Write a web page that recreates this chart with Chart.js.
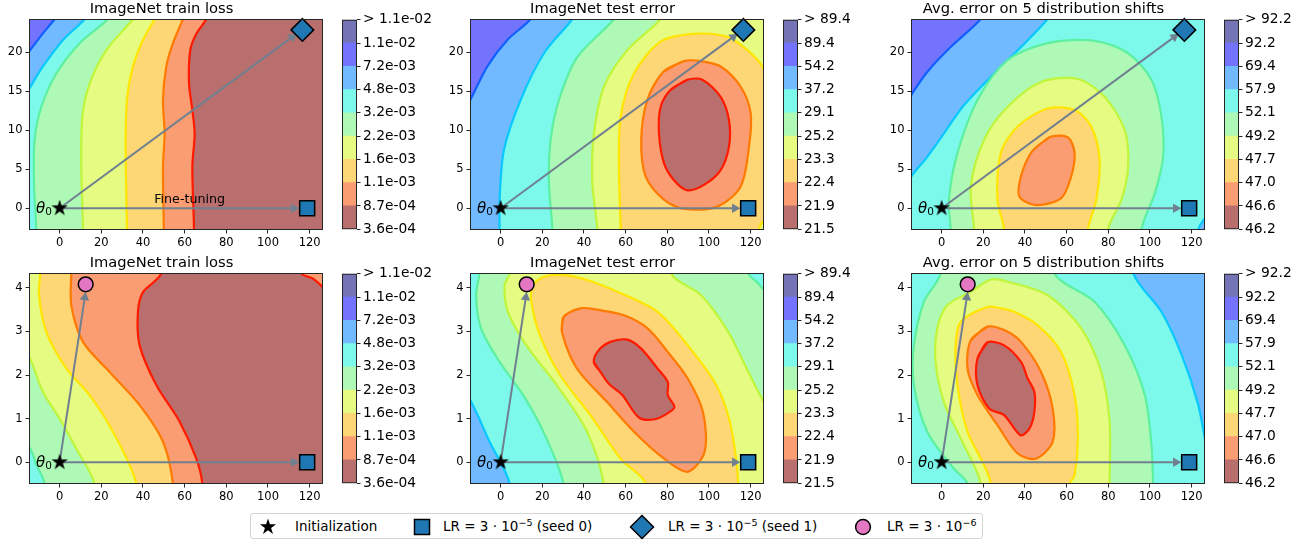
<!DOCTYPE html>
<html>
<head>
<meta charset="utf-8">
<script src="https://cdn.jsdelivr.net/npm/chart.js@4.4.1/dist/chart.umd.min.js"></script>
<style>
  body { margin: 0; width: 1301px; height: 542px; background: #fff; position: relative; overflow: hidden; font-family: "DejaVu Sans", sans-serif; }
  canvas { position: absolute; }
  #legend { position: absolute; left: 250px; top: 513px; width: 733px; height: 26px; box-sizing: border-box; border: 1px solid #d4d4d4; border-radius: 3px; }
  #legend svg { position: absolute; }
  #legend .item { position: absolute; top: 0; height: 24px; line-height: 24px; font-size: 13.5px; color: #000; white-space: nowrap; }
  #legend sup { font-size: 9.5px; vertical-align: 5px; line-height: 0; }
</style>
</head>
<body>
<div id="legend">
  <svg style="left:7px;top:2.5px" width="20" height="20"><polygon fill="#000" points="10,1.5 11.91,7.37 18.08,7.37 13.09,11 15,16.88 10,13.25 5,16.88 6.91,11 1.92,7.37 8.09,7.37"/></svg>
  <span class="item" style="left:44px">Initialization</span>
  <svg style="left:161.7px;top:3.5px" width="18" height="18"><rect x="1.5" y="1.5" width="15" height="15" fill="#1f77b4" stroke="#000" stroke-width="1.5"/></svg>
  <span class="item" style="left:192px">LR = 3 · 10<sup>−5</sup> (seed 0)</span>
  <svg style="left:378px;top:-0.5px" width="26" height="26"><polygon points="13,1.5 24.5,13 13,24.5 1.5,13" fill="#1f77b4" stroke="#000" stroke-width="1.5"/></svg>
  <span class="item" style="left:417px">LR = 3 · 10<sup>−5</sup> (seed 1)</span>
  <svg style="left:603px;top:3.5px" width="18" height="18"><circle cx="9" cy="9" r="7.4" fill="#e377c2" stroke="#000" stroke-width="1.5"/></svg>
  <span class="item" style="left:636px">LR = 3 · 10<sup>−6</sup></span>
</div>
<script>
// ---- axes ----
const xTicks = [0, 20, 40, 60, 80, 100, 120];
const yTicksTop = [0, 5, 10, 15, 20];
const yTicksLow = [0, 1, 2, 3, 4];
const xRange = [-14.7, 126.4];
const yRangeTop = [-2.8, 24.3];
const yRangeLow = [-0.5, 4.34];

const titles = ['ImageNet train loss', 'ImageNet test error', 'Avg. error on 5 distribution shifts'];

// colorbar tick labels (bottom to top)
const lossLabels = ['3.6e-04', '8.7e-04', '1.1e-03', '1.6e-03', '2.2e-03', '3.2e-03', '4.8e-03', '7.2e-03', '1.1e-02', '> 1.1e-02'];
const testLabels = ['21.5', '21.9', '22.4', '23.3', '25.2', '29.1', '37.2', '54.2', '89.4', '> 89.4'];
const shiftLabels = ['46.2', '46.6', '47.0', '47.7', '49.2', '52.1', '57.9', '69.4', '92.2', '> 92.2'];

// level fills (low -> high) and contour line colours between them
const fillColors = ['#b86f6e', '#fb9d72', '#fdd676', '#e5fb82', '#aef9b6', '#7cf9ea', '#72baff', '#7373fd', '#7373b6'];
const lineColors = ['#ff1a00', '#ff7a00', '#ffe500', '#bff53a', '#5cf0a0', '#08c8ff', '#1060ff', '#2020e0'];

// markers
const initPoint = [0, 0];
const seed0Point = [118.8, 0];
const seed1Point = [116.5, 22.9];
const lowLrPoint = [12.5, 4.08];
const seed0ArrowEnd = [112.4, 0];
const seed1ArrowEnd = [111.7, 22.0];
const lowLrArrowEnd = [12.1, 3.78];
const fineTuneAt = [62.4, 1.06];

// ---- contour boundaries, top row (train loss) ----
const trainTop6 = [[-22,17.5],[-14.7,20.1],[-8.5,22.3],[-2.4,24.3],[3,26.5],[170,40],[170,-15],[-40,-15],[-40,10]];
const trainTop5 = [[-22,12],[-14.7,15.3],[-8,18.2],[1.6,21.6],[12,24.3],[18,27],[170,40],[170,-15],[-40,-15],[-40,5]];
const trainTop4 = [[-10.5,-15],[-11.2,-2.8],[-12.3,3.2],[-12,8.8],[-8.8,13],[-1.6,17.3],[9.6,21.2],[23.2,24.3],[30,27],[170,40],[170,-15]];
const trainTop3 = [[11.3,-15],[11.2,-2.8],[10.4,5.3],[10.9,11.8],[14.4,16],[22.4,20.3],[35.2,24.3],[42,27],[170,40],[170,-15]];
const trainTop2 = [[32.4,-15],[32.3,-2.8],[31.7,7.5],[32.3,13.9],[35.2,18.2],[40,21.6],[45.6,24.3],[50,27],[170,40],[170,-15]];
const trainTop1 = [[50,-15],[50,-2.8],[49.6,5.3],[50.4,9.6],[49.6,13.9],[51.2,18.2],[54.4,21.2],[59.2,24.3],[63,27],[170,40],[170,-15]];
const trainTop0 = [[64.5,-15],[64.5,-2.8],[63.7,5.3],[64.8,9.6],[63.7,12.6],[62.1,16],[62.7,20.3],[65.6,22.4],[70.4,24.3],[74,27],[170,40],[170,-15]];

// top row (test error)
const testTop6 = [[-25,9],[-14.4,14],[-6.4,18.2],[3.2,21.6],[14.4,24.3],[20,27],[170,40],[170,-15],[-40,-15],[-40,5]];
const testTop5 = [[-0.5,-15],[-0.5,-2.8],[-0.5,1.1],[1.6,7.5],[9.6,13.9],[20.8,19.9],[34.4,24.3],[40,27],[170,40],[170,-15]];
const testTop4 = [[25,-15],[24.8,-2.8],[23.2,3.2],[24,8.8],[28,13.9],[36.8,19.4],[54.4,24.3],[60,27],[170,40],[170,-15]];
const testTop3 = [[46.6,-15],[46.4,-2.8],[44,3.2],[44.8,9.6],[49.6,15.6],[60.8,20.3],[76.8,24.3],[82,27],[170,40],[170,-15]];
const testTop2 = [[58,-15],[57.6,-2.8],[56.8,5.3],[57.6,11.8],[64,17.3],[76.8,21.4],[92.8,22.4],[108.8,22],[118.4,20.3],[125.6,18.2],[132,14],[140,5],[132,-0.8],[126.7,-1.5],[124,-2.8],[122,-15]];
const testTop1 = [[88,18.9],[96,18.9],[105.6,18.2],[115.2,15.6],[120,12.2],[119.2,7.9],[115.2,2.8],[104,0.2],[88,-0.1],[78.4,1.1],[69.6,4.1],[67.5,8.8],[70.4,13.9],[78,17.5]];
const testTop0 = [[89.6,16.5],[96.8,16.5],[105.6,14.3],[109.6,11.3],[109.6,7.9],[105.6,4.9],[97.6,3],[89.6,2.3],[83.2,3.6],[78.4,5.8],[76,9.6],[76.8,13],[81.6,15.2]];

// top row (distribution shifts)
const shiftTop6 = [[-25,9.5],[-14.6,14.5],[-6.9,17.5],[4.3,20.7],[18.8,24.3],[25,27],[170,40],[170,-15],[-40,-15],[-40,5]];
const shiftTop5 = [[-25,-0.5],[-14.6,4.06],[-6.9,6.6],[1.1,9.6],[10,13],[20.4,16],[38.1,20.7],[50.9,24.3],[58,27],[170,40],[170,5],[132,0.5],[126.9,-1.1],[123.2,-2.8],[121,-15],[-40,-15]];
const shiftTop4 = [[4.5,-15],[4.3,-2.8],[3.5,1.1],[7.6,7.1],[17.2,13.9],[31.6,19],[50.9,21.2],[73.4,21.5],[89.5,19.9],[100.7,16.5],[105.5,11.8],[106.3,6.6],[102.3,1.9],[95.9,-2.8],[94,-15]];
const shiftTop3 = [[15.8,-15],[15.6,-2.8],[14,2.8],[20.4,8.8],[31.6,13],[47.7,16.2],[65.4,16.6],[78.2,14.3],[87.9,10],[89.5,5.3],[86.3,1.1],[79.8,-2.8],[78,-15]];
const shiftTop2 = [[30.5,-15],[30,-2.8],[26.8,1.1],[28.4,7.1],[36.5,10.5],[50.9,12.8],[63.8,12.6],[71.8,10.5],[75.8,6.2],[74.2,1.1],[70.2,-2.8],[68,-15]];
const shiftTop1 = [[52.5,9.2],[60.6,9.1],[63.8,7.1],[62.2,4.1],[57.4,1.3],[45.3,0.4],[37.3,1.5],[38.1,4.1],[42.9,7.1],[48.5,8.5]];

// bottom row (train loss)
const trainLow4 = [[-30,1.1],[-14.7,0.35],[-11,-0.07],[-7.2,-0.5],[-5,-2],[170,-2],[170,6],[-40,6],[-40,1.5]];
const trainLow3 = [[-30,3.5],[-14.7,2.42],[-8,1.61],[0,1.0],[8,0.31],[16.8,-0.5],[20,-2],[170,-2],[170,6],[-40,6]];
const trainLow2 = [[-9,6],[-9.3,4.34],[-9.9,3.83],[-6.4,2.99],[3.2,2.15],[14.4,1.54],[25.6,0.7],[36.8,-0.5],[38,-2],[170,-2],[170,6]];
const trainLow1 = [[5.6,6],[5.6,4.34],[5.6,3.6],[11.2,2.76],[24,2.07],[38.4,1.31],[49.6,0.47],[54.4,-0.5],[55.5,-2],[170,-2],[170,6]];
const trainLow0 = [[52,6],[48.8,4.34],[40,3.9],[37.6,3.45],[38.4,2.68],[46.4,1.77],[57.6,0.93],[65.6,0.08],[68.5,-0.5],[70,-2],[170,-2],[170,3.2],[132,3.6],[126.4,4.0],[121.6,4.21],[116,4.34],[110,6]];

// bottom row (test error)
const testLow5 = [[-30,2.5],[-15,1.46],[-5.3,0.47],[4.4,-0.5],[7,-2],[170,-2],[170,6],[-40,6],[-40,3]];
const testLow4 = [[-10,6],[-10.2,4.34],[-11.8,3.83],[-9.4,3.07],[-0.5,2.3],[10.8,1.54],[20.5,0.7],[30.2,-0.5],[32,-2],[170,-2],[170,3],[135,3.5],[127.3,3.9],[123.7,4.1],[118.9,4.34],[115,6]];
const testLow3 = [[4.6,6],[4.4,4.34],[1.9,4.06],[3.5,3.45],[12.4,2.68],[26.9,1.77],[41.5,0.7],[49.5,-0.5],[51,-2],[170,-2],[170,0.5],[135,0.9],[127.3,1.31],[118.9,2.07],[109.2,2.99],[96.3,3.83],[81.8,4.34],[78,6]];
const testLow2 = [[70,-2],[69.7,-0.5],[57.6,0.08],[43.1,1.08],[28.5,2.0],[18.9,2.91],[14.8,3.68],[15.6,4.06],[20.5,4.25],[30.2,4.29],[41.5,4.18],[56,3.91],[75.3,3.45],[89.8,2.68],[103.5,1.77],[110,0.93],[113.2,0.01],[114,-0.5],[114.5,-2]];
const testLow1 = [[30.2,3.33],[38.2,3.53],[44.7,3.51],[59.2,3.37],[70.5,3.07],[80.2,2.53],[89.8,1.92],[97.1,1.15],[97.9,0.24],[89.8,-0.22],[78.5,0.08],[64,0.7],[51.1,1.38],[36.6,2.15],[29.4,2.99]];
const testLow0 = [[44.7,2.3],[47.1,2.57],[52.7,2.76],[60.8,2.81],[67.3,2.61],[75.3,2.15],[80.2,1.84],[80.2,1.54],[83.4,1.27],[81,1.15],[74.5,0.99],[66.5,1.02],[58.4,1.54],[51.9,1.8],[47.9,2.07]];

// bottom row (distribution shifts)
const shiftLow5 = [[88,6],[91.9,4.34],[105.5,3.45],[115.2,2.46],[123.2,1.31],[126.9,0.39],[130,-0.3],[135,-2],[-40,-2],[-40,6]];
const shiftLow4 = [[0,6],[-0.5,4.34],[-8.5,3.68],[-13.3,2.68],[-13.3,1.77],[-6.9,0.7],[5.9,-0.15],[12.4,-0.5],[14,-2],[102,-2],[101.5,-0.5],[100.7,0.39],[97.5,1.54],[87.9,2.68],[73.4,3.68],[54.1,4.34],[50,6]];
const shiftLow3 = [[18.5,-2],[18.8,-0.5],[9.2,0.54],[1.1,1.38],[-2.9,2.3],[-2.1,3.07],[2.7,3.6],[14,3.91],[23.6,4.19],[31.6,4.14],[50.9,3.83],[67,3.07],[76.6,2.07],[80.6,0.93],[80.6,-0.5],[80.5,-2]];
const shiftLow2 = [[24,-2],[23.6,-0.5],[20.4,-0.07],[12.4,0.7],[7.6,1.77],[6.7,2.68],[9.2,3.22],[22,3.56],[28.4,3.53],[34.9,3.45],[46.1,3.14],[57.3,2.53],[63.8,1.54],[65.4,0.54],[63.8,-0.3],[61.4,-0.5],[60,-2]];
const shiftLow1 = [[22,3.11],[30,3.03],[38.1,2.76],[47.7,2.07],[53.3,1.23],[53.3,0.47],[45.3,0.08],[36.5,0.2],[26.8,0.85],[17.2,1.54],[12.4,2.15],[14,2.8]];
const shiftLow0 = [[22,2.75],[30,2.68],[38.1,2.3],[41.3,1.92],[44.5,1.61],[44.5,1.15],[42.1,0.77],[37.8,0.62],[30,1.08],[22.8,1.23],[17.2,1.77],[17.2,2.38]];

// [level, boundary, closed loop?]
const panels = [
  { row: 0, col: 0, bg: 7, labels: lossLabels, fineTune: true,
    regions: [[6, trainTop6], [5, trainTop5], [4, trainTop4], [3, trainTop3], [2, trainTop2], [1, trainTop1], [0, trainTop0]] },
  { row: 0, col: 1, bg: 7, labels: testLabels,
    regions: [[6, testTop6], [5, testTop5], [4, testTop4], [3, testTop3], [2, testTop2], [1, testTop1, true], [0, testTop0, true]] },
  { row: 0, col: 2, bg: 7, labels: shiftLabels,
    regions: [[6, shiftTop6], [5, shiftTop5], [4, shiftTop4], [3, shiftTop3], [2, shiftTop2], [1, shiftTop1, true]] },
  { row: 1, col: 0, bg: 5, labels: lossLabels,
    regions: [[4, trainLow4], [3, trainLow3], [2, trainLow2], [1, trainLow1], [0, trainLow0]] },
  { row: 1, col: 1, bg: 6, labels: testLabels,
    regions: [[5, testLow5], [4, testLow4], [3, testLow3], [2, testLow2], [1, testLow1, true], [0, testLow0, true]] },
  { row: 1, col: 2, bg: 6, labels: shiftLabels,
    regions: [[5, shiftLow5], [4, shiftLow4], [3, shiftLow3], [2, shiftLow2], [1, shiftLow1, true], [0, shiftLow0, true]] }
];

// ---- layout ----
const FONT = '"DejaVu Sans", sans-serif';
const INK = '#262626';
const ARROW = '#708090';
const PLOT_LEFT = [29, 470, 911];
const PLOT_TOP = [19, 273];
const PLOT_W = 294, PLOT_H = 211, Y_AXIS_W = 29, TITLE_H = 19, X_AXIS_H = 24, RIGHT_PAD = 16;
const CB_OFFSET = 313, CB_W = 15, CB_LABEL_W = 85;

Chart.defaults.font.family = FONT;
Chart.defaults.color = '#000';

function addCanvas(left, top, w, h) {
  const c = document.createElement('canvas');
  c.width = w; c.height = h;
  c.style.left = left + 'px';
  c.style.top = top + 'px';
  document.body.appendChild(c);
  return c;
}

function makeStar(R) {
  const c = document.createElement('canvas');
  const s = Math.ceil(R * 2 + 2);
  c.width = s; c.height = s;
  const g = c.getContext('2d');
  g.beginPath();
  for (let i = 0; i < 10; i++) {
    const r = i % 2 ? R * 0.382 : R;
    const a = -Math.PI / 2 + i * Math.PI / 5;
    g.lineTo(s / 2 + r * Math.cos(a), s / 2 + r * Math.sin(a));
  }
  g.closePath();
  g.fillStyle = '#000';
  g.fill();
  return c;
}
const starImg = makeStar(8.6);

const areaBg = {
  id: 'areaBg',
  beforeDatasetsDraw(chart, args, opts) {
    if (!opts.color) return;
    const a = chart.chartArea, ctx = chart.ctx;
    ctx.save();
    ctx.fillStyle = opts.color;
    ctx.fillRect(a.left, a.top, a.right - a.left, a.bottom - a.top);
    ctx.restore();
  }
};

const frame = {
  id: 'frame',
  afterDraw(chart) {
    const a = chart.chartArea, ctx = chart.ctx;
    ctx.save();
    ctx.strokeStyle = INK;
    ctx.lineWidth = 1;
    ctx.strokeRect(a.left + 0.5, a.top + 0.5, a.right - a.left - 1, a.bottom - a.top - 1);
    ctx.restore();
  }
};

const labels = {
  id: 'labels',
  afterDatasetsDraw(chart, args, opts) {
    const ctx = chart.ctx, xs = chart.scales.x, ys = chart.scales.y;
    const px = xs.getPixelForValue(initPoint[0]), py = ys.getPixelForValue(initPoint[1]);
    ctx.save();
    ctx.fillStyle = '#000';
    ctx.textAlign = 'center';
    ctx.textBaseline = 'middle';
    ctx.font = 'italic 15px ' + FONT;
    ctx.fillText('θ', px - 19, py + 0.5);
    ctx.font = '10.5px ' + FONT;
    ctx.fillText('0', px - 11, py + 4.5);
    if (opts.fineTune) {
      ctx.font = '12.7px ' + FONT;
      ctx.fillText('Fine-tuning', xs.getPixelForValue(fineTuneAt[0]), ys.getPixelForValue(fineTuneAt[1]));
    }
    ctx.restore();
  }
};

const pts = arr => arr.map(([x, y]) => ({ x, y }));

function regionSet(level, boundary, closed) {
  let data = pts(boundary);
  if (closed) data = [data[data.length - 1], ...data, data[0]];
  return {
    data, showLine: true, fill: 'shape', tension: 0.3,
    backgroundColor: fillColors[level], borderColor: lineColors[level], borderWidth: 2.2,
    pointRadius: 0, order: 20 + level, clip: 0
  };
}

function arrowRotation(c) {
  const d = c.dataset.data, xs = c.chart.scales.x, ys = c.chart.scales.y;
  const dx = xs.getPixelForValue(d[1].x) - xs.getPixelForValue(d[0].x);
  const dy = ys.getPixelForValue(d[1].y) - ys.getPixelForValue(d[0].y);
  return Math.atan2(dy, dx) * 180 / Math.PI + 90;
}

function arrowSet(end) {
  return {
    data: pts([initPoint, end]), showLine: true, borderColor: ARROW, borderWidth: 2,
    pointRadius: [0, 5.5], pointStyle: 'triangle', pointBackgroundColor: ARROW,
    pointBorderWidth: 0, pointRotation: arrowRotation, order: 1, clip: false
  };
}

function markerSet(p, style, radius, color) {
  return {
    data: pts([p]), pointStyle: style, pointRadius: radius,
    backgroundColor: color, borderColor: '#000', borderWidth: 1.5, order: 0, clip: false
  };
}

function axis(range, ticks, isX) {
  return {
    type: 'linear', min: range[0], max: range[1],
    afterBuildTicks: s => { s.ticks = ticks.map(v => ({ value: v })); },
    afterFit: s => { if (isX) s.height = X_AXIS_H; else s.width = Y_AXIS_W; },
    ticks: { font: { size: 11.5 }, color: '#000', padding: 3, maxRotation: 0, autoSkip: false, callback: v => String(v) },
    grid: { display: true, drawOnChartArea: false, drawTicks: true, tickLength: 3.5, tickWidth: 1, tickColor: INK },
    border: { display: false }
  };
}

panels.forEach(p => {
  const left = PLOT_LEFT[p.col], top = PLOT_TOP[p.row];
  const topRow = p.row === 0;
  const datasets = p.regions.map(r => regionSet(r[0], r[1], r[2]));
  if (topRow) {
    datasets.push(arrowSet(seed0ArrowEnd), arrowSet(seed1ArrowEnd));
    datasets.push(markerSet(seed1Point, 'rectRot', 11.3, '#1f77b4'));
  } else {
    datasets.push(arrowSet(seed0ArrowEnd), arrowSet(lowLrArrowEnd));
    datasets.push(markerSet(lowLrPoint, 'circle', 7.4, '#e377c2'));
  }
  datasets.push(markerSet(seed0Point, 'rect', 10.6, '#1f77b4'));
  datasets.push({ data: pts([initPoint]), pointStyle: starImg, pointRadius: 7, order: 0, clip: false });

  new Chart(addCanvas(left - Y_AXIS_W, top - TITLE_H, Y_AXIS_W + PLOT_W + RIGHT_PAD, TITLE_H + PLOT_H + X_AXIS_H), {
    type: 'scatter',
    data: { datasets },
    options: {
      responsive: false, animation: false, events: [],
      layout: { padding: { left: 0, top: 0, bottom: 0, right: RIGHT_PAD } },
      elements: { line: { capBezierPoints: false } },
      plugins: {
        legend: { display: false }, tooltip: { enabled: false },
        title: { display: true, text: titles[p.col], color: '#000', font: { size: 14.7, weight: 'normal', lineHeight: 1.2 }, padding: { top: 0, bottom: 1.36 } },
        areaBg: { color: fillColors[p.bg] },
        labels: { fineTune: !!p.fineTune }
      },
      scales: {
        x: axis(xRange, xTicks, true),
        y: axis(topRow ? yRangeTop : yRangeLow, topRow ? yTicksTop : yTicksLow, false)
      }
    },
    plugins: [areaBg, frame, labels]
  });

  // colorbar
  new Chart(addCanvas(left + CB_OFFSET - 2, top - 10, 2 + CB_W + CB_LABEL_W, PLOT_H + 20), {
    type: 'bar',
    data: {
      labels: [''],
      datasets: fillColors.map(c => ({ data: [1], backgroundColor: c, borderWidth: 0, barPercentage: 1, categoryPercentage: 1 }))
    },
    options: {
      responsive: false, animation: false, events: [],
      layout: { padding: { left: 2, right: 0, top: 10, bottom: 10 } },
      plugins: { legend: { display: false }, tooltip: { enabled: false } },
      scales: {
        x: { stacked: true, display: false },
        y: {
          stacked: true, position: 'right', min: 0, max: fillColors.length,
          afterBuildTicks: s => { s.ticks = p.labels.map((_, i) => ({ value: i })); },
          afterFit: s => { s.width = CB_LABEL_W; },
          ticks: { font: { size: 13.8 }, color: '#000', padding: 2.5, autoSkip: false, callback: v => p.labels[v] },
          grid: { display: true, drawOnChartArea: false, drawTicks: true, tickLength: 3.5, tickColor: INK },
          border: { display: false }
        }
      }
    },
    plugins: [frame]
  });
});
</script>
</body>
</html>
